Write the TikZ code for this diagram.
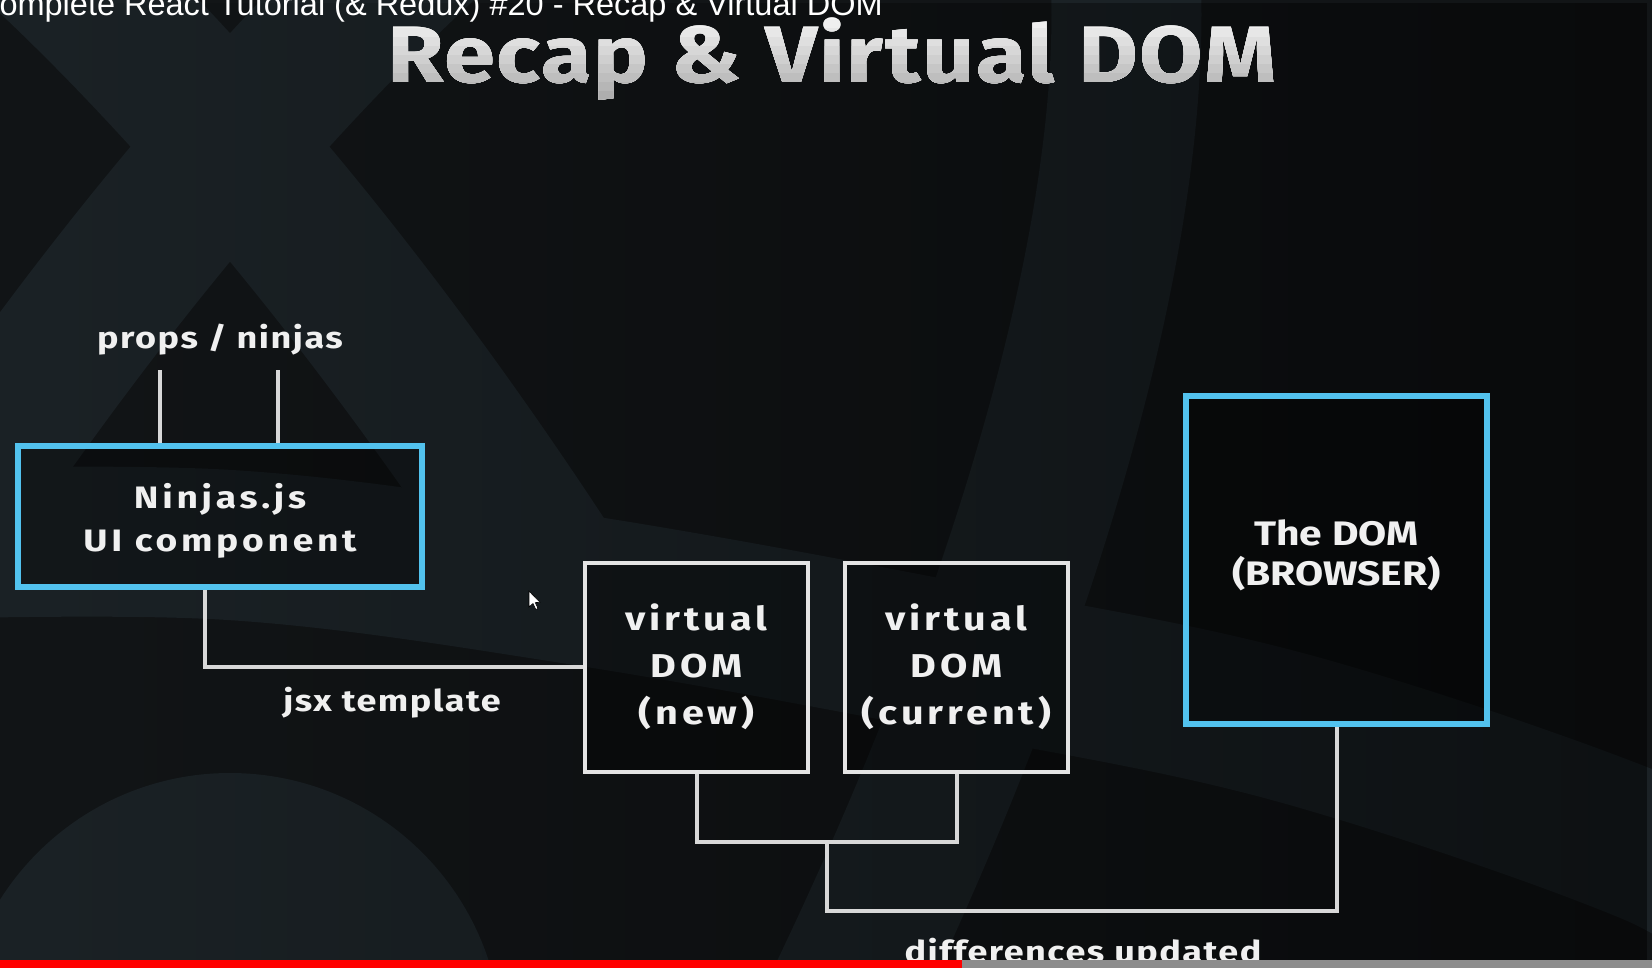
\documentclass[tikz,border=0pt]{standalone}
\usepackage{fontspec}
\setmainfont{Fira Sans}
\newfontfamily\ytfont{Liberation Sans}
\usetikzlibrary{fadings}
\definecolor{bgbase}{HTML}{121517}
\definecolor{bgband}{HTML}{1B2226}
\definecolor{rblue}{HTML}{52C2EE}
\definecolor{wbox}{HTML}{E4E4E4}
\definecolor{wline}{HTML}{D8D8D8}
\definecolor{txt}{HTML}{F0F0F0}
\definecolor{ytred}{HTML}{FF0000}
\definecolor{ytgray}{HTML}{8C8C8C}
\begin{document}
\begin{tikzpicture}[x=1pt,y=-1pt,
  bluebox/.style={draw=rblue, line width=6pt, fill=black, fill opacity=0.3, inner sep=0pt},
  boxtext/.style={text=txt, align=center, inner sep=0pt},
  whitebox/.style={draw=wbox, line width=4pt, fill=black, fill opacity=0.3, text opacity=1, text=txt, align=center, minimum width=223pt, minimum height=209pt, inner sep=0pt, font=\bfseries\addfontfeatures{FakeStretch=1.2,LetterSpace=12}\fontsize{33}{47}\selectfont},
  conn/.style={draw=wline, line width=4pt},
  lbl/.style={text=txt, font=\bfseries\addfontfeatures{FakeStretch=1.2,LetterSpace=5}\fontsize{30}{36}\selectfont, inner sep=0pt},
  titlefont/.style={font=\bfseries\addfontfeatures{FakeStretch=1.15,LetterSpace=2}\fontsize{80}{90}\selectfont, anchor=base, inner sep=0pt},
]
\useasboundingbox (0,0) rectangle (1652,967);
\fill[bgbase] (0,0) rectangle (1652,967);
\begin{scope}
  \clip (0,0) rectangle (1652,967);
  \draw[bgband, line width=150pt] plot[smooth, tension=0.6] coordinates {(-120,545) (230,545) (580,590) (968,660) (1300,730) (1652,850) (1750,920)};
  \draw[bgband, line width=150pt, rotate around={60:(230,1045)}] (230,1045) ellipse [x radius=1550, y radius=520];
  \begin{scope}
    \clip (-10,-10) rectangle (900,620);
    \draw[bgband, line width=150pt, rotate around={-60:(230,1045)}] (230,1045) ellipse [x radius=1550, y radius=520];
  \end{scope}
  \fill[bgband] (230,1045) circle [radius=272];
  \fill[black, path fading=west, fill opacity=0.5] (0,0) rectangle (1652,967);
\end{scope}

% coordinates for connector ends
\coordinate (p1) at (160,370);
\coordinate (p2) at (278,370);
\coordinate (n1) at (205,0);
\coordinate (j1) at (827,842);
\coordinate (j2) at (827,911);

% boxes
\node[bluebox, minimum width=404pt, minimum height=141pt] (ninjas) at (220,516.5) {};
\node[boxtext, font=\bfseries\addfontfeatures{FakeStretch=1.2,LetterSpace=12}\fontsize{31}{43}\selectfont] (ninjastxt) at (220,521) {Ninjas.js\\UI component};
\node[whitebox] (vnew) at (696.5,667) {virtual\\DOM\\(new)};
\node[whitebox] (vcur) at (956.5,667) {virtual\\DOM\\(current)};
\node[bluebox, minimum width=301pt, minimum height=328pt] (dom) at (1336.5,560) {};
\node[boxtext, font=\bfseries\addfontfeatures{FakeStretch=1.2}\fontsize{34}{40}\selectfont] (domtxt) at (1336.5,555) {The DOM\\(BROWSER)};

% connectors
\draw[conn] (p1) -- (p1 |- ninjas.north);
\draw[conn] (p2) -- (p2 |- ninjas.north);
\draw[conn] (n1 |- ninjas.south) |- (vnew.west);
\draw[conn] (vnew.south) |- (j1) -| (vcur.south);
\draw[conn] (j1) -- (j2) -| (dom.south);

% labels
\node[lbl] (props) at (220,340) {props / ninjas};
\node[lbl] (jsx) at (392,703) {jsx template};
\node[lbl, anchor=base] (diff) at (1083,962) {differences updated};

% title with vertical gradient
\foreach \i in {0,...,9} {
  \pgfmathsetmacro\k{3+\i*3.2}
  \begin{scope}
    \clip (0,{10+\i*9}) rectangle (1652,125);
    \node[titlefont, text=black!\k!white] (title\i) at (832,82) {Recap \& Virtual DOM};
  \end{scope}
}

% video title overlay
\node[font=\ytfont\fontsize{32.5}{36}\selectfont, text=white, anchor=base east, inner sep=0pt] (yt) at (883,15) {Complete React Tutorial (\& Redux) \#20 - Recap \& Virtual DOM};

% mouse pointer
\fill[white, draw=black, line width=0.6pt] (529,591) -- (529,607) -- (533,603.5) -- (535.8,609.5) -- (538,608.5) -- (535.3,602.6) -- (540,602.3) -- cycle;

% progress bar
\fill[ytgray] (962,959.5) rectangle (1660,975);
\fill[ytred] (-5,959.5) rectangle (962,975);
\end{tikzpicture}
\end{document}
